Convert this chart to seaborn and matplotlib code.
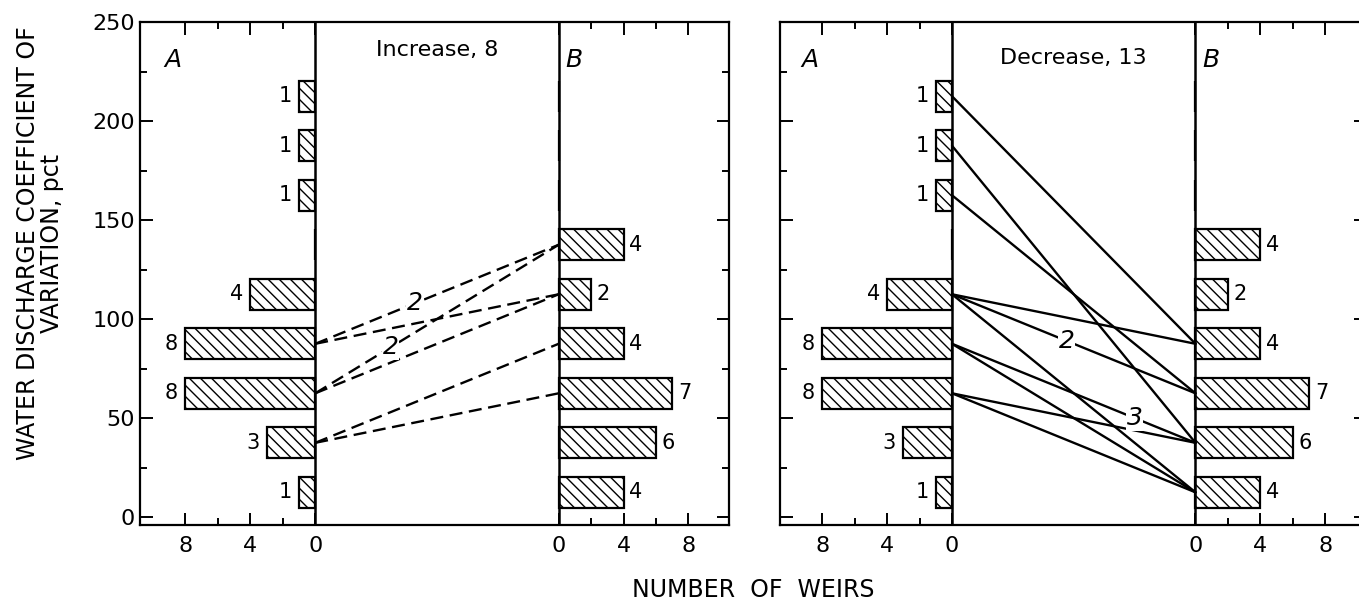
import numpy as np
import pandas as pd
import seaborn as sns
import matplotlib.pyplot as plt
from matplotlib.ticker import FixedLocator

# class centres of water discharge coefficient of variation, pct
cv_bins = [12.5, 37.5, 62.5, 87.5, 112.5, 137.5, 162.5, 187.5, 212.5]
count_a = [1, 3, 8, 8, 4, 0, 1, 1, 1]
count_b = [4, 6, 7, 4, 2, 4, 0, 0, 0]

# weirs that moved from class A to class B (number of weirs on each link)
inc_from = [87.5, 87.5, 62.5, 62.5, 37.5, 37.5]
inc_to = [137.5, 112.5, 137.5, 112.5, 87.5, 62.5]
inc_n = [2, 1, 2, 1, 1, 1]

dec_from = [212.5, 187.5, 162.5, 112.5, 112.5, 112.5, 87.5, 87.5, 62.5, 62.5]
dec_to = [87.5, 37.5, 62.5, 87.5, 62.5, 12.5, 37.5, 12.5, 37.5, 12.5]
dec_n = [1, 1, 1, 1, 2, 1, 3, 1, 1, 1]

panel_titles = ['Increase, 8', 'Decrease, 13']
y_ticks = [0, 50, 100, 150, 200, 250]
x_tick_labels = ['8', '4', '0', '0', '4', '8']

# where the count sits along a link (fraction of the way from A to B)
inc_label_at = {0: 0.41, 2: 0.31}
dec_label_at = {4: 0.47, 6: 0.75}

GAP = 15  # x offset of the B zero line

sns.set_style('white')
plt.rcParams['font.family'] = ['DejaVu Sans']
plt.rcParams['text.color'] = 'black'
plt.rcParams['xtick.color'] = 'black'
plt.rcParams['ytick.color'] = 'black'
plt.rcParams['hatch.linewidth'] = 1.0
plt.rcParams['axes.linewidth'] = 1.6


def draw_panel(ax, frm, to, n, label_at, dashed, title, title_y, xlo, show_y):
    bar_kw = dict(orient='h', native_scale=True, errorbar=None, color='white',
                  edgecolor='black', linewidth=1.6, hatch='\\\\\\', width=0.62, ax=ax)
    df_a = pd.DataFrame({'n': [-c for c in count_a], 'cv': cv_bins})
    sns.barplot(data=df_a, x='n', y='cv', **bar_kw)
    df_b = pd.DataFrame({'n': count_b, 'cv': cv_bins})
    sns.barplot(data=df_b, x='n', y='cv', left=GAP, **bar_kw)

    # count labels beside bars
    for c, y in zip(count_a, cv_bins):
        if c:
            ax.text(-c - 0.45, y, str(c), ha='right', va='center', fontsize=15)
    for c, y in zip(count_b, cv_bins):
        if c:
            ax.text(GAP + c + 0.35, y, str(c), ha='left', va='center', fontsize=15)

    # links between the two distributions
    links = pd.DataFrame({
        'x': [0, GAP] * len(frm),
        'y': [v for pair in zip(frm, to) for v in pair],
        'link': np.repeat(np.arange(len(frm)), 2),
    })
    ls = (0, (5.5, 2.8)) if dashed else '-'
    sns.lineplot(data=links, x='x', y='y', units='link', estimator=None, sort=False,
                 color='black', linewidth=1.7, linestyle=ls, ax=ax)
    for i, frac in label_at.items():
        xm = frac * GAP
        ym = frm[i] + frac * (to[i] - frm[i])
        ax.text(xm, ym, str(n[i]), ha='center', va='center', fontsize=18, style='italic',
                bbox=dict(facecolor='white', edgecolor='none', pad=0.5), zorder=5)

    ax.axvline(0, color='black', lw=1.8, zorder=6)
    ax.axvline(GAP, color='black', lw=1.8, zorder=6)

    ax.text(GAP / 2, title_y, title, ha='center', va='center', fontsize=16)
    ax.text(-9.3, 231, 'A', ha='left', va='center', fontsize=18, style='italic')
    ax.text(GAP + 0.4, 231, 'B', ha='left', va='center', fontsize=18, style='italic')

    ax.set_xlim(xlo, 25.5)
    ax.set_ylim(-4, 250)
    ax.set_xlabel('')
    ax.set_ylabel('')
    ax.set_xticks([-8, -4, 0, GAP, GAP + 4, GAP + 8])
    ax.set_xticklabels(x_tick_labels)
    ax.xaxis.set_minor_locator(FixedLocator([-6, -2, GAP + 2, GAP + 6]))
    ax.set_yticks(y_ticks)
    ax.yaxis.set_minor_locator(FixedLocator([25, 75, 125, 175, 225]))
    ax.tick_params(which='both', direction='in', top=True, bottom=True, left=True,
                   right=True, width=1.4, labelsize=16, labelleft=show_y)
    ax.tick_params(which='major', length=9)
    ax.tick_params(which='minor', length=5)
    ax.tick_params(axis='x', pad=8)
    for s in ax.spines.values():
        s.set_visible(True)
        s.set_color('black')


fig = plt.figure(figsize=(13.59, 6.09), dpi=100)
W, H = 1359, 609
ax1 = fig.add_axes([140 / W, 1 - 525 / H, 589 / W, 503 / H])
ax2 = fig.add_axes([780 / W, 1 - 525 / H, 36.1 * 16.23 / W, 503 / H])

draw_panel(ax1, inc_from, inc_to, inc_n, inc_label_at, True, panel_titles[0], 236, -10.8, True)
draw_panel(ax2, dec_from, dec_to, dec_n, dec_label_at, False, panel_titles[1], 232, -10.6, False)

fig.text(40 / W, 0.6, 'WATER DISCHARGE COEFFICIENT OF\nVARIATION, pct', rotation=90,
         ha='center', va='center', fontsize=17, multialignment='center', linespacing=1.05)
fig.text(753 / W, 1 - 590 / H, 'NUMBER  OF  WEIRS', ha='center', va='center', fontsize=17)

fig.savefig('out.png', dpi=100)
